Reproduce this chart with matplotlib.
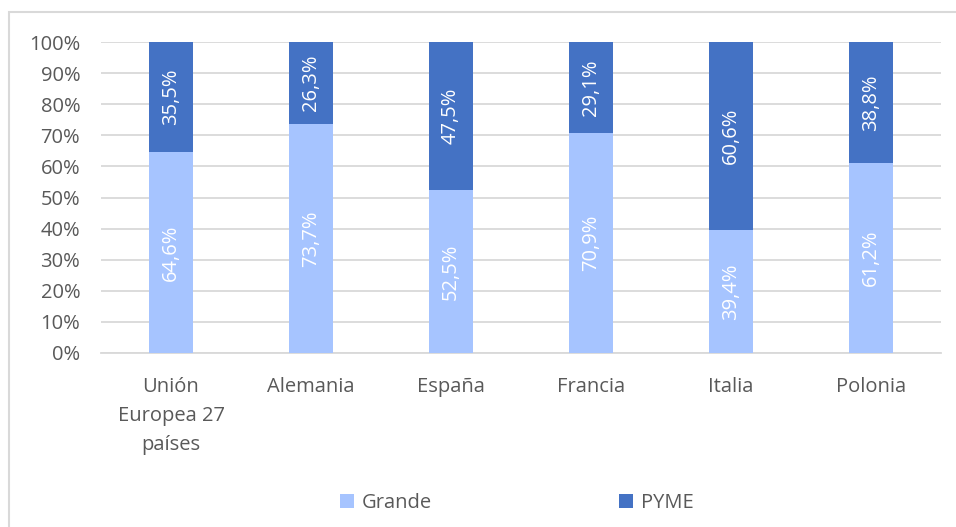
import numpy as np
import matplotlib.pyplot as plt
from matplotlib.patches import Rectangle

# data
paises = ['Unión\nEuropea 27\npaíses', 'Alemania', 'España', 'Francia', 'Italia', 'Polonia']
grande = [64.6, 73.7, 52.5, 70.9, 39.4, 61.2]
pyme = [35.5, 26.3, 47.5, 29.1, 60.6, 38.8]

c_grande = '#A6C4FF'
c_pyme = '#4472C4'
gris = '#595959'
fs = 14.5

plt.rcParams['font.family'] = ['Open Sans', 'DejaVu Sans']

fig = plt.figure(figsize=(9.56, 5.27), dpi=100)
ax = fig.add_axes([101/956, 1-353/527, 840/956, 311/527])

# outer chart border (top and left visible)
fig.patches.append(Rectangle((9/956, -0.1), 1.2, (1-12/527)+0.1, transform=fig.transFigure,
                             fill=False, edgecolor='#D9D9D9', linewidth=1.5))

x = np.arange(len(paises))
w = 0.31
b1 = ax.bar(x, grande, w, color=c_grande, label='Grande', zorder=3)
b2 = ax.bar(x, pyme, w, bottom=grande, color=c_pyme, label='PYME', zorder=3)

for i in range(len(paises)):
    ax.text(x[i], grande[i]/2, f'{grande[i]:.1f}%'.replace('.', ','), rotation=90,
            ha='center', va='center', color='white', fontsize=fs, zorder=4)
    ax.text(x[i], grande[i] + pyme[i]/2, f'{pyme[i]:.1f}%'.replace('.', ','), rotation=90,
            ha='center', va='center', color='white', fontsize=fs, zorder=4)

ax.set_xlim(-0.5, 5.5)
ax.set_ylim(0, 100)
ax.set_yticks(np.arange(0, 101, 10))
ax.set_yticklabels([f'{v}%' for v in range(0, 101, 10)])
ax.set_xticks(x)
ax.set_xticklabels(paises, linespacing=1.6)
ax.grid(axis='y', color='#D9D9D9', linewidth=1.3, zorder=0)
for s in ['top', 'right', 'left']:
    ax.spines[s].set_visible(False)
ax.spines['bottom'].set_color('#D9D9D9')
ax.spines['bottom'].set_linewidth(1.3)
ax.tick_params(length=0, labelsize=fs, colors=gris)
ax.tick_params(axis='y', pad=15)
ax.tick_params(axis='x', pad=17)

leg = fig.legend(handles=[b1, b2], loc='center', bbox_to_anchor=(517/956, 1-503/527), ncol=2,
                 frameon=False, fontsize=fs, handlelength=0.7, handleheight=0.7,
                 handletextpad=0.4, columnspacing=9.3)
for t in leg.get_texts():
    t.set_color(gris)

fig.savefig('out.png', dpi=100)
